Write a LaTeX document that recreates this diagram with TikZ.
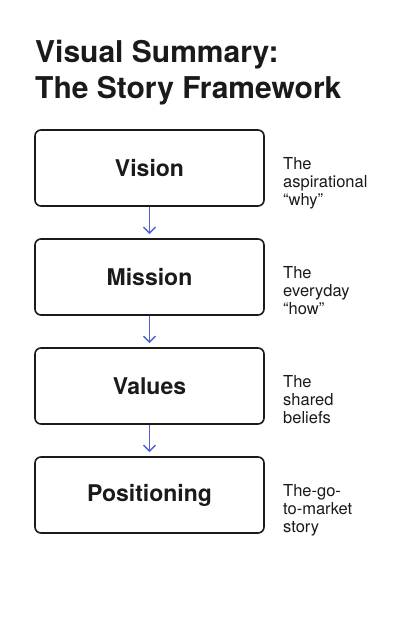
\documentclass[tikz,border=0pt]{standalone}
\usepackage{fontspec}
\setmainfont{TeX Gyre Heros}
\usetikzlibrary{arrows.meta}
\definecolor{ink}{HTML}{1A1A1A}
\definecolor{arrowblue}{HTML}{5060D6}
\tikzset{
  stagebox/.style={draw=ink, line width=1.6pt, rounded corners=6pt, minimum width=229pt, minimum height=76pt, inner sep=0pt, font=\fontsize{23}{27}\selectfont\bfseries, text=ink},
  sidenote/.style={anchor=north west, inner sep=0pt, align=left, font=\fontsize{16.5}{18.3}\selectfont, text=ink},
  titletext/.style={anchor=base west, inner sep=0pt, font=\fontsize{30}{36}\selectfont\bfseries, text=ink},
  flow/.style={draw=arrowblue, line width=1.4pt, -{Straight Barb[length=6pt,width=12pt,line width=1.4pt]}, shorten >=4pt}
}
\begin{document}
\begin{tikzpicture}[x=1pt,y=-1pt]
\useasboundingbox[fill=white] (0,0) rectangle (414,621);
\node[titletext] (t1) at (35,62) {Visual Summary:};
\node[titletext] (t2) at (35,98) {The Story Framework};
\node[stagebox] (vision) at (149.5,168) {Vision};
\node[stagebox] (mission) at (149.5,277) {Mission};
\node[stagebox] (values) at (149.5,386) {Values};
\node[stagebox] (pos) at (149.5,495) {Positioning};
\node[sidenote] (n1) at (283,157) {The\\aspirational\\“why”};
\node[sidenote] (n2) at (283,266) {The\\everyday\\“how”};
\node[sidenote] (n3) at (283,375) {The\\shared\\beliefs};
\node[sidenote] (n4) at (283,484) {The-go-\\to-market\\story};
\draw[flow] (vision) -- (mission);
\draw[flow] (mission) -- (values);
\draw[flow] (values) -- (pos);
\end{tikzpicture}
\end{document}
